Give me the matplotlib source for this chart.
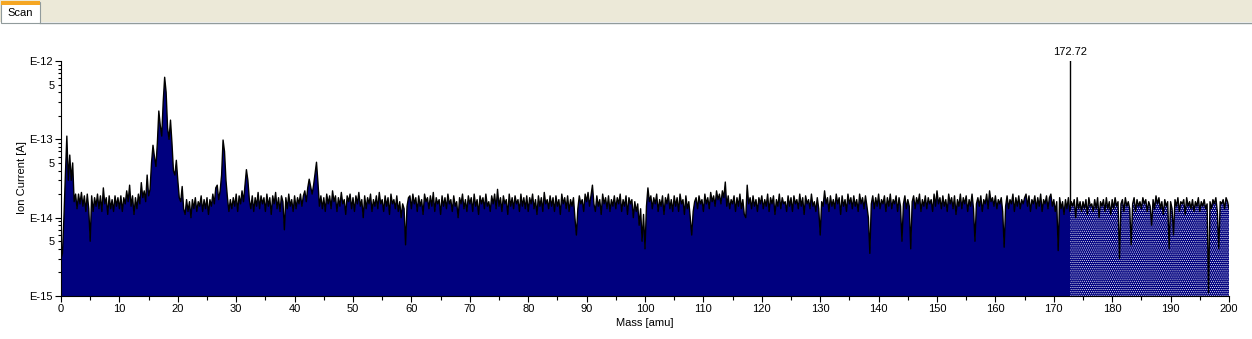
import numpy as np
import matplotlib
matplotlib.use('Agg')
import matplotlib.pyplot as plt
from matplotlib.ticker import LogLocator, FuncFormatter, MultipleLocator
from matplotlib.patches import Rectangle

# Scan data: mass axis in 0.25 amu steps, ion current in units of 1e-14 A
MASS_START = 0.0
MASS_STEP = 0.25
current_e14 = [
    # 0 - 4.75
    0.3, 0.35, 1.0, 3.5, 11.0, 3.0, 6.3, 3.0, 5.0, 1.6, 2.0, 1.3, 2.0, 1.5, 2.1, 1.4, 1.9, 1.2, 2.0, 1.3,
    # 5 - 9.75
    0.5, 1.9, 1.2, 1.8, 1.4, 2.0, 1.3, 1.9, 1.2, 2.4, 1.5, 1.8, 1.1, 1.9, 1.3, 1.7, 1.2, 1.9, 1.4, 1.8,
    # 10 - 14.75
    1.3, 1.9, 1.2, 1.8, 1.5, 2.2, 1.6, 2.6, 1.4, 1.9, 1.1, 1.8, 1.3, 2.0, 1.5, 2.8, 1.8, 2.2, 1.6, 3.5,
    # 15 - 19.75
    1.9, 2.3, 5.0, 8.4, 6.0, 4.5, 9.0, 23.0, 15.0, 11.0, 30.0, 62.0, 40.0, 14.0, 10.0, 17.6, 9.0, 4.0, 3.5, 5.4,
    # 20 - 24.75
    3.0, 1.8, 1.6, 2.5, 1.3, 1.1, 1.7, 1.2, 1.6, 1.0, 1.7, 1.3, 1.8, 1.2, 1.6, 1.4, 1.9, 1.2, 1.7, 1.3,
    # 25 - 29.75
    1.8, 1.1, 1.7, 1.4, 2.0, 1.5, 2.4, 2.6, 1.7, 2.2, 3.5, 9.8, 7.0, 3.0, 1.8, 1.2, 1.7, 1.3, 1.8, 1.4,
    # 30 - 34.75
    2.0, 1.2, 1.9, 1.5, 2.2, 1.6, 2.6, 4.1, 3.0, 1.7, 1.3, 1.9, 1.2, 1.8, 1.4, 2.1, 1.3, 1.9, 1.5, 1.8,
    # 35 - 39.75
    1.2, 2.0, 1.4, 1.8, 1.1, 1.9, 1.5, 2.1, 1.3, 1.8, 1.2, 1.9, 1.6, 0.7, 1.8, 1.3, 2.0, 1.4, 1.7, 1.2,
    # 40 - 44.75
    1.9, 1.3, 1.8, 1.5, 2.0, 1.4, 1.9, 2.2, 1.6, 2.4, 3.1, 2.5, 2.0, 2.6, 3.6, 5.1, 2.8, 1.4, 1.9, 1.3,
    # 45 - 49.75
    1.8, 1.2, 2.0, 1.5, 1.9, 1.3, 2.2, 1.6, 1.9, 1.2, 1.8, 1.4, 2.1, 1.5, 1.7, 1.1, 1.9, 1.6, 2.0, 1.3,
    # 50 - 54.75
    1.8, 1.2, 1.9, 1.5, 2.1, 1.4, 1.7, 1.0, 1.9, 1.3, 1.8, 1.5, 2.0, 1.2, 1.7, 1.4, 1.9, 1.3, 2.1, 1.5,
    # 55 - 59.75
    1.7, 1.2, 1.9, 1.4, 1.8, 1.1, 2.0, 1.5, 1.7, 1.3, 1.9, 1.2, 1.6, 1.0, 1.5, 1.3, 0.45, 1.4, 1.8, 1.9,
    # 60 - 64.75
    1.3, 2.0, 1.5, 1.8, 1.2, 1.9, 1.4, 1.7, 1.1, 2.0, 1.6, 1.8, 1.3, 1.9, 1.4, 2.1, 1.2, 1.8, 1.5, 1.7,
    # 65 - 69.75
    1.1, 1.9, 1.4, 1.8, 1.3, 2.0, 1.5, 1.7, 1.2, 1.9, 1.4, 1.6, 1.0, 1.8, 1.5, 2.0, 1.3, 1.7, 1.2, 1.9,
    # 70 - 74.75
    1.5, 1.8, 1.2, 2.0, 1.4, 1.7, 1.1, 1.9, 1.5, 1.8, 1.3, 2.0, 1.4, 1.6, 1.2, 1.9, 1.5, 2.0, 1.3, 2.3,
    # 75 - 79.75
    1.4, 1.8, 1.2, 1.9, 1.5, 1.7, 1.1, 2.0, 1.4, 1.8, 1.3, 1.9, 1.5, 1.7, 1.2, 2.0, 1.4, 1.8, 1.3, 1.9,
    # 80 - 84.75
    1.2, 1.8, 1.5, 2.0, 1.3, 1.7, 1.1, 1.9, 1.4, 1.8, 1.2, 2.1, 1.5, 1.7, 1.3, 1.9, 1.4, 1.8, 1.2, 1.9,
    # 85 - 89.75
    1.4, 1.7, 1.1, 2.0, 1.5, 1.8, 1.3, 1.9, 1.2, 1.7, 1.4, 1.8, 1.0, 0.6, 1.3, 1.9, 1.5, 1.7, 1.2, 2.0,
    # 90 - 94.75
    1.6, 2.1, 1.4, 1.9, 2.6, 1.5, 1.2, 1.9, 1.4, 1.7, 1.1, 2.0, 1.5, 1.8, 1.3, 1.9, 1.2, 1.7, 1.4, 1.9,
    # 95 - 99.75
    1.3, 1.8, 1.5, 2.0, 1.2, 1.7, 1.4, 1.9, 1.1, 1.8, 1.5, 1.7, 1.0, 1.6, 1.2, 1.5, 0.8, 1.3, 0.5, 1.1,
    # 100 - 104.75
    0.4, 1.4, 2.4, 1.6, 1.9, 1.3, 1.8, 1.5, 2.0, 1.2, 1.7, 1.4, 1.9, 1.1, 1.8, 1.5, 2.0, 1.3, 1.7, 1.2,
    # 105 - 109.75
    1.9, 1.4, 1.8, 1.2, 2.0, 1.5, 1.7, 1.1, 1.9, 1.3, 1.6, 1.0, 0.6, 1.2, 1.6, 1.8, 1.3, 1.9, 1.5, 1.7,
    # 110 - 114.75
    1.2, 2.0, 1.5, 1.8, 1.3, 2.1, 1.6, 1.9, 1.4, 2.2, 1.7, 2.0, 1.5, 2.2, 1.8, 2.85, 1.4, 1.9, 1.3, 1.7,
    # 115 - 119.75
    1.5, 1.9, 1.2, 1.8, 1.4, 2.0, 1.3, 1.7, 1.1, 1.0, 2.6, 1.5, 1.8, 1.3, 1.9, 1.4, 1.7, 1.2, 1.8, 1.5,
    # 120 - 124.75
    1.9, 1.3, 1.7, 1.4, 2.0, 1.2, 1.8, 1.5, 1.9, 1.1, 1.7, 1.4, 2.0, 1.3, 1.8, 1.5, 1.6, 1.2, 1.9, 1.4,
    # 125 - 129.75
    1.8, 1.2, 1.9, 1.5, 1.7, 1.3, 2.0, 1.4, 1.8, 1.1, 1.9, 1.5, 1.7, 1.3, 2.0, 1.4, 1.6, 1.2, 1.8, 1.3,
    # 130 - 134.75
    0.6, 1.6, 1.4, 2.2, 1.5, 1.8, 1.2, 1.9, 1.4, 1.7, 1.3, 2.0, 1.5, 1.8, 1.1, 1.9, 1.4, 1.7, 1.2, 2.0,
    # 135 - 139.75
    1.5, 1.8, 1.3, 1.9, 1.4, 1.7, 1.2, 2.0, 1.5, 1.8, 1.3, 1.9, 1.4, 1.0, 0.35, 1.5, 1.9, 1.3, 1.8, 1.4,
    # 140 - 144.75
    2.0, 1.3, 1.7, 1.5, 1.9, 1.2, 1.8, 1.4, 2.0, 1.3, 1.7, 1.5, 1.9, 1.2, 1.8, 1.4, 0.5, 1.5, 1.9, 1.3,
    # 145 - 149.75
    1.7, 1.4, 0.4, 1.6, 1.9, 1.3, 1.8, 1.5, 2.0, 1.2, 1.7, 1.4, 1.9, 1.3, 1.8, 1.5, 1.7, 1.2, 2.0, 1.4,
    # 150 - 154.75
    2.2, 1.5, 1.8, 1.3, 1.9, 1.4, 1.7, 1.2, 2.0, 1.5, 1.8, 1.3, 1.9, 1.1, 1.7, 1.4, 2.0, 1.3, 1.8, 1.5,
    # 155 - 159.75
    1.9, 1.2, 1.7, 1.4, 2.0, 1.3, 0.5, 1.5, 1.8, 1.4, 1.9, 1.2, 1.7, 1.5, 2.0, 1.3, 2.2, 1.6, 1.8, 1.4,
    # 160 - 164.75
    1.9, 1.3, 1.7, 1.5, 1.8, 1.2, 0.42, 1.4, 1.9, 1.3, 1.7, 1.5, 2.0, 1.2, 1.8, 1.4, 1.9, 1.3, 1.7, 1.5,
    # 165 - 169.75
    1.8, 2.0, 1.4, 1.9, 1.2, 1.7, 1.5, 1.9, 1.3, 1.8, 1.4, 2.0, 1.2, 1.7, 1.5, 1.9, 1.3, 1.8, 2.0, 1.4,
    # 170 - 174.75
    1.7, 1.2, 1.6, 0.38, 1.8, 1.3, 1.6, 1.1, 1.7, 1.3, 1.8, 1.2, 1.6, 1.4, 1.7, 1.0, 1.8, 1.3, 1.6, 1.2,
    # 175 - 179.75
    1.6, 1.3, 1.7, 1.1, 1.8, 1.4, 1.5, 1.2, 1.7, 1.3, 1.8, 1.0, 1.6, 1.4, 1.7, 1.2, 1.8, 1.3, 1.6, 1.1,
    # 180 - 184.75
    1.7, 1.3, 1.8, 1.4, 1.6, 0.3, 1.5, 1.7, 1.2, 1.8, 1.4, 1.6, 1.3, 0.45, 1.5, 1.8, 1.2, 1.7, 1.4, 1.6,
    # 185 - 189.75
    1.3, 1.8, 1.5, 1.7, 1.2, 1.6, 1.4, 0.8, 1.7, 1.3, 1.9, 1.5, 1.8, 1.3, 1.6, 1.1, 1.7, 1.4, 1.6, 0.4,
    # 190 - 194.75
    1.6, 1.3, 0.6, 1.7, 1.4, 1.8, 1.2, 1.6, 1.5, 1.7, 1.1, 1.8, 1.4, 1.6, 1.3, 1.7, 1.2, 1.6, 1.4, 1.8,
    # 195 - 199.75
    1.2, 1.6, 1.4, 1.7, 1.3, 1.5, 0.11, 1.6, 1.3, 1.7, 1.5, 1.8, 1.2, 0.4, 1.6, 1.5, 1.7, 1.3, 1.8, 1.6,
    # 200
    1.3,
]
cursor_mass = 172.72

mass = MASS_START + MASS_STEP * np.arange(len(current_e14))
current = np.array(current_e14) * 1e-14

NAVY = '#00007f'
plt.rcParams['font.family'] = ['Liberation Sans', 'DejaVu Sans']
plt.rcParams['hatch.linewidth'] = 0.45

fig = plt.figure(figsize=(12.52, 3.39), dpi=100)
fig.patch.set_facecolor('white')

# tab strip at the top
fig.patches.append(Rectangle((0, 1 - 22 / 339), 1, 22 / 339, transform=fig.transFigure,
                             facecolor='#ece9d8', edgecolor='none', zorder=0))
fig.lines.append(plt.Line2D([40 / 1252, 1], [1 - 22.5 / 339] * 2, transform=fig.transFigure,
                            color='#919b9c', lw=1))
fig.patches.append(Rectangle((0.5 / 1252, 1 - 23 / 339), 39.5 / 1252, 20.5 / 339, transform=fig.transFigure,
                             facecolor='white', edgecolor='#919b9c', lw=0.8, zorder=1))
fig.patches.append(Rectangle((0.5 / 1252, 1 - 4.5 / 339), 39.5 / 1252, 3 / 339, transform=fig.transFigure,
                             facecolor='#f5a623', edgecolor='none', zorder=2))
fig.text(20 / 1252, 1 - 12.5 / 339, 'Scan', ha='center', va='center', fontsize=8)

ax = fig.add_axes([61 / 1252, 43 / 339, 1168 / 1252, 235 / 339])
ax.set_yscale('log')
ax.set_xlim(0, 200)
ax.set_ylim(1e-15, 1e-12)

ax.axvline(cursor_mass, color='black', lw=1, zorder=1)
ax.fill_between(mass, 1e-15, current, facecolor=NAVY, edgecolor='none', zorder=2)
dots = ax.fill_between(mass, 1e-15, current, facecolor='none', edgecolor='white',
                       hatch='........', linewidth=0, zorder=3)
dots.set_clip_path(Rectangle((cursor_mass, 1e-15), 200 - cursor_mass, 1e-12, transform=ax.transData))
ax.plot(mass, current, color='black', lw=1.0, zorder=4)
ax.text(cursor_mass, 1.12e-12, '172.72', ha='center', va='bottom', fontsize=8, clip_on=False)

for s in ['top', 'right']:
    ax.spines[s].set_visible(False)
for s in ['left', 'bottom']:
    ax.spines[s].set_linewidth(0.8)

ax.xaxis.set_major_locator(MultipleLocator(10))
ax.xaxis.set_minor_locator(MultipleLocator(5))
ax.yaxis.set_major_locator(LogLocator(base=10))
ax.yaxis.set_minor_locator(LogLocator(base=10, subs=range(2, 10)))


def major_fmt(v, pos):
    return 'E%d' % int(round(np.log10(v)))


def minor_fmt(v, pos):
    m = v / 10 ** np.floor(np.log10(v) + 1e-9)
    return '5' if abs(m - 5) < 1e-6 else ''


ax.yaxis.set_major_formatter(FuncFormatter(major_fmt))
ax.yaxis.set_minor_formatter(FuncFormatter(minor_fmt))
ax.tick_params(axis='both', which='both', labelsize=8, width=0.8, pad=2)
ax.tick_params(axis='both', which='major', length=4)
ax.tick_params(axis='y', which='minor', length=2.5)
ax.tick_params(axis='x', which='minor', length=3)

fig.text(22 / 1252, 1 - 178 / 339, 'Ion Current [A]', rotation=90, ha='center', va='center', fontsize=8)
fig.text(645 / 1252, 1 - 323 / 339, 'Mass [amu]', ha='center', va='center', fontsize=8)

fig.savefig('out.png', dpi=100)
